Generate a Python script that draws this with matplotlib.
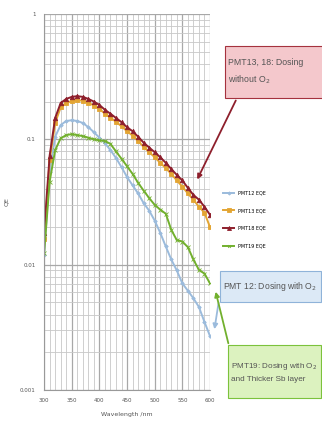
import matplotlib
matplotlib.use("Agg")
import matplotlib.pyplot as plt
from matplotlib.patches import FancyBboxPatch, FancyArrowPatch
from matplotlib.ticker import FixedLocator, LogLocator, NullFormatter

wavelength = list(range(300, 601, 10))

pmt12 = [0.012, 0.055, 0.105, 0.130, 0.140, 0.142, 0.140, 0.135, 0.125, 0.114,
         0.103, 0.093, 0.082, 0.071, 0.060, 0.050, 0.043, 0.037, 0.031, 0.027,
         0.0225, 0.018, 0.014, 0.011, 0.0090, 0.0071, 0.0062, 0.0054, 0.0046, 0.0035,
         0.0027]
pmt13 = [0.016, 0.068, 0.135, 0.180, 0.195, 0.202, 0.205, 0.203, 0.196, 0.186,
         0.175, 0.160, 0.149, 0.138, 0.127, 0.116, 0.107, 0.097, 0.087, 0.079,
         0.072, 0.065, 0.059, 0.053, 0.047, 0.042, 0.037, 0.033, 0.029, 0.026,
         0.020]
pmt18 = [0.018, 0.074, 0.148, 0.195, 0.210, 0.218, 0.221, 0.218, 0.210, 0.200,
         0.188, 0.172, 0.160, 0.148, 0.137, 0.125, 0.116, 0.105, 0.094, 0.086,
         0.079, 0.072, 0.065, 0.058, 0.052, 0.047, 0.041, 0.036, 0.033, 0.029,
         0.025]
pmt19 = [0.0123, 0.046, 0.082, 0.102, 0.108, 0.110, 0.108, 0.106, 0.103, 0.100,
         0.098, 0.097, 0.092, 0.080, 0.070, 0.061, 0.053, 0.045, 0.039, 0.034,
         0.030, 0.0275, 0.0255, 0.019, 0.0157, 0.0153, 0.0138, 0.0110, 0.0091, 0.0085,
         0.0071]

labels = ["PMT12 EQE", "PMT13 EQE", "PMT18 EQE", "PMT19 EQE"]
colors = ["#9bbbdc", "#e3a533", "#8e1f2c", "#72b02e"]
markers = ["D", "s", "^", "x"]

fig = plt.figure(figsize=(3.22, 4.23), dpi=100)
ax = fig.add_axes([0.137, 0.078, 0.515, 0.889])

series = [pmt12, pmt13, pmt18, pmt19]
sizes = [1.8, 3.2, 3.2, 2.2]
for vals, lab, c, m, ms in zip(series, labels, colors, markers, sizes):
    ax.plot(wavelength, vals, color=c, marker=m, markersize=ms, lw=1.4, label=lab,
            markeredgewidth=0.6)

ax.set_yscale("log")
ax.set_xlim(300, 600)
ax.set_ylim(0.001, 1)
ax.set_xticks(range(300, 601, 50))
ax.xaxis.set_minor_locator(FixedLocator(range(300, 601, 10)))
ax.yaxis.set_major_locator(FixedLocator([0.001, 0.01, 0.1, 1]))
ax.set_yticklabels(["0.001", "0.01", "0.1", "1"])
ax.yaxis.set_minor_locator(LogLocator(base=10, subs=range(2, 10)))
ax.yaxis.set_minor_formatter(NullFormatter())
ax.grid(True, which="major", color="#a8a8a8", lw=0.9)
ax.grid(True, which="minor", color="#c8c8c8", lw=0.6)
ax.tick_params(labelsize=4, length=0, which="both", pad=6, colors="#555555")
for s in ax.spines.values():
    s.set_visible(False)
ax.spines["left"].set_visible(True)
ax.spines["bottom"].set_visible(True)
ax.spines["left"].set_color("#999999")
ax.spines["bottom"].set_color("#999999")
ax.set_xlabel("Wavelength /nm", fontsize=4.5, color="#555555", labelpad=6)
ax.set_ylabel("QE", fontsize=4.5, color="#555555", labelpad=8)

ax.legend(loc="upper left", bbox_to_anchor=(219 / 322, 1 - 186 / 423),
          bbox_transform=fig.transFigure, frameon=False, fontsize=3.5,
          handlelength=2.2, labelspacing=2.6, markerscale=0.9)

font = ["Liberation Sans", "DejaVu Sans"]
boxes = [
    (225, 46, 100, 52, "#f4c8cc", "#a5323e", 6.3, "PMT13, 18: Dosing\nwithout O$_2$"),
    (220, 271, 101, 31, "#dce9f6", "#8fb3d9", 6.2, "PMT 12: Dosing with O$_2$"),
    (228, 345, 93, 53, "#dcf2bf", "#7cc23c", 5.9, "PMT19: Dosing with O$_2$\nand Thicker Sb layer"),
]
for x, y, w, h, fc, ec, fs, txt in boxes:
    patch = FancyBboxPatch((x / 322, 1 - (y + h) / 423), w / 322, h / 423,
                           boxstyle="square,pad=0", transform=fig.transFigure,
                           facecolor=fc, edgecolor=ec, lw=0.8)
    fig.patches.append(patch)
    fig.text((x + 3) / 322, 1 - (y + h / 2) / 423, txt, fontsize=fs, family=font,
             color="#555555", va="center", ha="left", linespacing=1.8)

arrows = [
    ((237, 98), (196, 182), "#8e1f2c"),
    ((219, 300), (214, 332), "#9bbbdc"),
    ((229, 346), (215, 289), "#72b02e"),
]
for (x0, y0), (x1, y1), c in arrows:
    fig.add_artist(FancyArrowPatch(
        (x0 / 322, 1 - y0 / 423), (x1 / 322, 1 - y1 / 423),
        transform=fig.transFigure, arrowstyle="-|>", mutation_scale=7,
        color=c, lw=1.3))

fig.savefig("out.png", dpi=100)
